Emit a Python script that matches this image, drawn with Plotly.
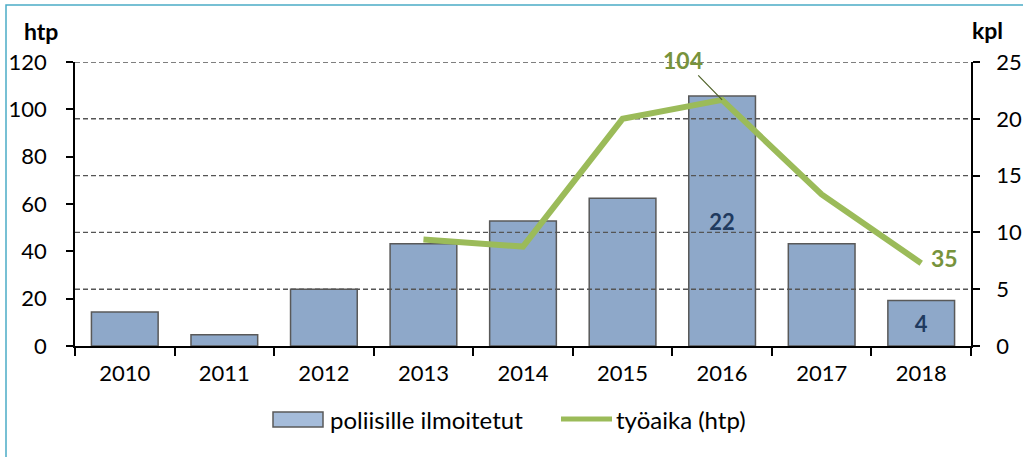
import plotly.graph_objects as go

years = ["2010", "2011", "2012", "2013", "2014", "2015", "2016", "2017", "2018"]
reported_kpl = [3, 1, 5, 9, 11, 13, 22, 9, 4]
bar_labels = ["", "", "", "", "", "", "22", "", "4"]
line_years = ["2013", "2014", "2015", "2016", "2017", "2018"]
worktime_htp = [45, 42, 96, 104, 64, 35]
kpl_ticks = [5, 10, 15, 20, 25]
htp_ticks = [0, 20, 40, 60, 80, 100, 120]
KPL_MAX = 25
HTP_MAX = 120

FONT = "Lato"
GREEN = "#9BBB59"
LABEL_GREEN = "#77933C"
BAR = "#8EA8C9"

# positions of line points as category indices on a hidden linear x-axis
line_x = [years.index(y) for y in line_years]
grid_htp = [v * HTP_MAX / KPL_MAX for v in kpl_ticks]

fig = go.Figure()
fig.add_trace(go.Bar(
    x=years, y=reported_kpl, name="poliisille ilmoitetut",
    marker=dict(color=BAR, line=dict(color="#595959", width=1.5)),
    text=bar_labels, textposition="inside", insidetextanchor="middle",
    textfont=dict(family=FONT, size=22, color="#1F3A5F", weight="bold"),
    xaxis="x", yaxis="y", showlegend=False,
))
# dashed gridlines (at kpl ticks) drawn above the bars, below the line
for g in grid_htp:
    fig.add_trace(go.Scatter(
        x=[-0.5, len(years) - 0.5], y=[g, g], mode="lines",
        line=dict(color="#555555", width=1.4, dash="5px,3px"),
        xaxis="x2", yaxis="y2", showlegend=False, hoverinfo="skip", cliponaxis=False,
    ))
fig.add_trace(go.Scatter(
    x=line_x, y=worktime_htp, name="työaika (htp)", mode="lines",
    line=dict(color=GREEN, width=6), xaxis="x2", yaxis="y2", showlegend=False,
))

fig.add_annotation(x=years.index("2016"), y=104, xref="x2", yref="y2", text="<b>104</b>",
                   showarrow=True, arrowhead=0, arrowwidth=1.2, arrowcolor="#4F6228",
                   ax=-39, ay=-40, standoff=0,
                   font=dict(family=FONT, size=23, color=LABEL_GREEN))
fig.add_annotation(x=years.index("2018"), y=35, xref="x2", yref="y2", text="<b>35</b>",
                   showarrow=False, xshift=23, yshift=5,
                   font=dict(family=FONT, size=23, color=LABEL_GREEN))

# axis titles
fig.add_annotation(x=(41 - 75) / 896, y=(346 - 31) / 284, xref="paper", yref="paper",
                   xanchor="center", yanchor="middle",
                   text="<b>htp</b>", showarrow=False,
                   font=dict(family=FONT, size=23, color="black"))
fig.add_annotation(x=(988 - 75) / 896, y=(346 - 30) / 284, xref="paper", yref="paper",
                   xanchor="center", yanchor="middle",
                   text="<b>kpl</b>", showarrow=False,
                   font=dict(family=FONT, size=23, color="black"))

# legend (drawn manually)
fig.add_shape(type="rect", xref="paper", yref="paper",
              x0=(273 - 75) / 896, x1=(323 - 75) / 896,
              y0=(346 - 427) / 284, y1=(346 - 412) / 284,
              fillcolor="#A5BCDA", line=dict(color="#595959", width=1.5))
fig.add_annotation(x=(328 - 75) / 896, y=(346 - 420) / 284, xref="paper", yref="paper",
                   xanchor="left", yanchor="middle", text="poliisille ilmoitetut",
                   showarrow=False, font=dict(family=FONT, size=24, color="black"))
fig.add_shape(type="line", xref="paper", yref="paper",
              x0=(561 - 75) / 896, x1=(612 - 75) / 896,
              y0=(346 - 419) / 284, y1=(346 - 419) / 284,
              line=dict(color=GREEN, width=5))
fig.add_annotation(x=(614 - 75) / 896, y=(346 - 420) / 284, xref="paper", yref="paper",
                   xanchor="left", yanchor="middle", text="työaika (htp)",
                   showarrow=False, font=dict(family=FONT, size=24, color="black"))

# outer frame
fig.add_shape(type="rect", xref="paper", yref="paper",
              x0=(6 - 75) / 896, x1=(1040 - 75) / 896,
              y0=(346 - 480) / 284, y1=(346 - 5) / 284,
              line=dict(color="#4BACC6", width=1.5), layer="below")

fig.update_layout(
    width=1023, height=457,
    margin=dict(l=75, r=52, t=62, b=111, autoexpand=False),
    paper_bgcolor="white", plot_bgcolor="white",
    font=dict(family=FONT, size=22, color="black"),
    bargap=0.33,
    showlegend=False,
    xaxis=dict(type="category", categoryorder="array", categoryarray=years,
               showline=True, linecolor="black", linewidth=1.5,
               ticks="outside", tickson="boundaries", ticklen=8, tickcolor="black",
               tickwidth=1.5, showgrid=False, range=[-0.5, 8.5], ticklabelstandoff=7),
    xaxis2=dict(overlaying="x", range=[-0.5, 8.5], visible=False, showgrid=False),
    yaxis=dict(side="right", range=[0, KPL_MAX], tickvals=[0] + kpl_ticks,
               showline=True, linecolor="black",
               linewidth=1.5, ticks="outside", ticklen=7, tickcolor="black", tickwidth=1.5,
               showgrid=False, zeroline=False, ticklabelstandoff=12),
    yaxis2=dict(overlaying="y", side="left", anchor="x", range=[0, HTP_MAX],
                tickvals=htp_ticks, showline=True,
                linecolor="black", linewidth=1.5, ticks="outside", ticklen=7,
                tickcolor="black", tickwidth=1.5, showgrid=False, zeroline=False,
                ticklabelstandoff=15),
)

fig.write_html("out.html", config={"displayModeBar": False},
               post_script="document.body.style.margin='0';")
